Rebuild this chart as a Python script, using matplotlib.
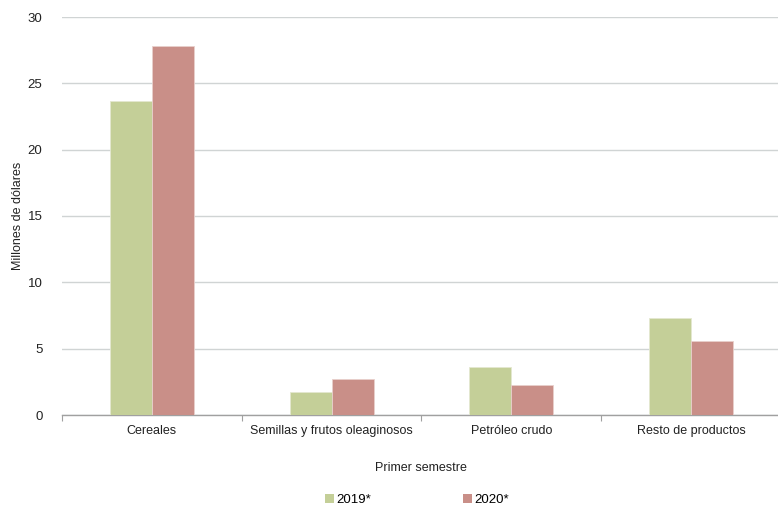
import matplotlib
matplotlib.use("Agg")
import matplotlib.pyplot as plt
import numpy as np
from matplotlib.patches import Patch

plt.rcParams['font.family'] = ['Liberation Sans', 'DejaVu Sans']

categories = ["Cereales", "Semillas y frutos oleaginosos", "Petróleo crudo", "Resto de productos"]
series_names = ["2019*", "2020*"]
values_2019 = [23.7, 1.75, 3.62, 7.32]
values_2020 = [27.85, 2.72, 2.25, 5.6]
colors = ["#c4cf98", "#c98f88"]
yticks = [0, 5, 10, 15, 20, 25, 30]

fig = plt.figure(figsize=(7.78, 5.08), dpi=100)
ax = fig.add_axes([62/778, 1-415/508, (781-62)/778, (415-17)/508])

x = np.arange(len(categories))
w = 0.234
ax.bar(x - w/2, values_2019, w, color=colors[0], edgecolor="#e4e8d0", linewidth=0.6, zorder=3)
ax.bar(x + w/2, values_2020, w, color=colors[1], edgecolor="#e8d0cc", linewidth=0.6, zorder=3)

ax.set_xlim(-0.5, len(categories) - 0.5)
ax.set_ylim(0, 30)
ax.set_yticks(yticks)
ax.set_yticklabels([str(t) for t in yticks], fontsize=9.5, color="#222222")
ax.yaxis.grid(True, color="#d0d4d4", linewidth=1.0, zorder=0)
ax.tick_params(axis='y', length=0, pad=14)

ax.set_xticks(np.arange(-0.5, len(categories), 1.0))
ax.set_xticklabels([])
ax.set_xticks(x, minor=True)
ax.set_xticklabels(categories, minor=True, fontsize=9, color="#222222")
ax.tick_params(axis='x', which='major', length=4, width=0.8, color="#a0a0a0", direction='out')
ax.tick_params(axis='x', which='minor', length=0, pad=7)

for s in ["top", "right", "left"]:
    ax.spines[s].set_visible(False)
ax.spines["bottom"].set_color("#a0a0a0")
ax.spines["bottom"].set_linewidth(1.0)

fig.text(18/778, 1-216/508, "Millones de dólares", rotation=90, ha='center', va='center', fontsize=9, color="#222222")
fig.text(421/778, 1-468/508, "Primer semestre", ha='center', va='center', fontsize=9, color="#222222")

handles = [Patch(facecolor=colors[0], edgecolor='none'), Patch(facecolor=colors[1], edgecolor='none')]
fig.legend(handles, series_names, loc='center', bbox_to_anchor=(417/778, 1-500/508), ncol=2,
           frameon=False, fontsize=9.5, handlelength=0.7, handleheight=0.7, handletextpad=0.2,
           columnspacing=6.9)

fig.savefig("out.png", dpi=100)
